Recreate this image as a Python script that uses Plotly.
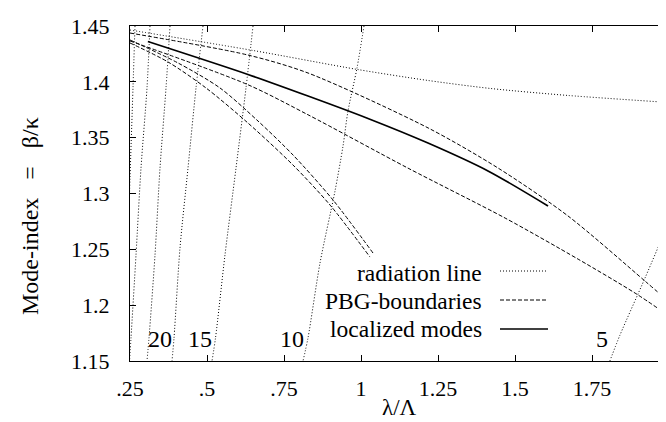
import plotly.graph_objects as go

FONT = "Liberation Serif, Times New Roman, serif"

# ---- tick labels ----
x_tick_vals = [0.25, 0.5, 0.75, 1.0, 1.25, 1.5, 1.75, 2.0]
x_tick_text = [".25", ".5", ".75", "1", "1.25", "1.5", "1.75", "2"]
y_tick_vals = [1.15, 1.2, 1.25, 1.3, 1.35, 1.4, 1.45]
y_tick_text = ["1.15", "1.2", "1.25", "1.3", "1.35", "1.4", "1.45"]

# ---- radiation line (cladding) ----
rad_x = [0.25, 0.649, 0.990, 1.218, 1.422, 1.672, 2.0]
rad_y = [1.4464, 1.4281, 1.4110, 1.4012, 1.3940, 1.3878, 1.3815]

# ---- steep radiation lines (labelled 5 ... 20, plus unlabelled ones) ----
l0_x = [0.2662, 0.2597, 0.2500, 0.2450]
l0_y = [1.4500, 1.3945, 1.3139, 1.2700]
l1_x = [0.3149, 0.3052, 0.2857, 0.2695, 0.2532, 0.2484]
l1_y = [1.4500, 1.3945, 1.3228, 1.2450, 1.1706, 1.1500]
l2_x = [0.3799, 0.3669, 0.3474, 0.3312, 0.3117, 0.3052]
l2_y = [1.4500, 1.3945, 1.3228, 1.2450, 1.1706, 1.1500]
l3_x = [0.4870, 0.4643, 0.4383, 0.4123, 0.3929, 0.3864]
l3_y = [1.4500, 1.3945, 1.3228, 1.2512, 1.1706, 1.1500]
l4_x = [0.6494, 0.6266, 0.5942, 0.5584, 0.5276, 0.5162]
l4_y = [1.4500, 1.3945, 1.3228, 1.2450, 1.1706, 1.1500]
l5_x = [1.0097, 0.9870, 0.9578, 0.9416, 0.9156, 0.8669, 0.8279, 0.8117]
l5_y = [1.4500, 1.4124, 1.3739, 1.3425, 1.3022, 1.2378, 1.1706, 1.1500]
l6_x = [1.8080, 1.8409, 1.9221, 1.9968, 2.0100]
l6_y = [1.1500, 1.1733, 1.2243, 1.2727, 1.2810]

steep_lines = [(l0_x, l0_y), (l1_x, l1_y), (l2_x, l2_y), (l3_x, l3_y),
               (l4_x, l4_y), (l5_x, l5_y), (l6_x, l6_y)]

# ---- PBG boundaries ----
d1_x = [0.25, 0.633, 0.828, 1.218, 1.445, 1.672, 1.922, 2.0]
d1_y = [1.4437, 1.4240, 1.4079, 1.3587, 1.3228, 1.2799, 1.2216, 1.2030]
d2_x = [0.25, 0.633, 0.828, 1.152, 1.468, 1.705, 1.890, 1.986]
d2_y = [1.4366, 1.3974, 1.3705, 1.3228, 1.2780, 1.2412, 1.2108, 1.1930]
d3_x = [0.25, 0.3734, 0.4968, 0.6331, 0.7792, 0.8994, 1.0292]
d3_y = [1.4348, 1.4178, 1.3945, 1.3631, 1.3255, 1.2897, 1.2431]
d4_x = [0.25, 0.4058, 0.5422, 0.6656, 0.7792, 0.9091, 1.0390]
d4_y = [1.4375, 1.4169, 1.3945, 1.3649, 1.3345, 1.2942, 1.2467]
pbg_lines = [(d1_x, d1_y), (d2_x, d2_y), (d3_x, d3_y), (d4_x, d4_y)]

# ---- localized mode ----
loc_x = [0.308, 0.633, 0.828, 1.0227, 1.2175, 1.4123, 1.6072]
loc_y = [1.4361, 1.4066, 1.3873, 1.3672, 1.3452, 1.3202, 1.2888]

# ---- curve labels ----
curve_labels = ["20", "15", "10", "5"]
curve_label_x = [0.393, 0.523, 0.821, 1.809]
curve_label_y = [1.1697, 1.1697, 1.1697, 1.1697]

legend_labels = ["radiation line", "PBG-boundaries", "localized modes"]

DOT = "1px,2px"
DASH = "4px,2px"

fig = go.Figure()

def add(x, y, dash, width):
    fig.add_trace(go.Scatter(x=x, y=y, mode="lines", showlegend=False,
                             line=dict(color="black", width=width, dash=dash,
                                       shape="spline", smoothing=0.8),
                             hoverinfo="skip"))

add(rad_x, rad_y, DOT, 1)
for lx, ly in steep_lines:
    add(lx, ly, DOT, 1)
for dx, dy in pbg_lines:
    add(dx, dy, DASH, 1)
add(loc_x, loc_y, "solid", 1.7)

annotations = []
for t, xx, yy in zip(curve_labels, curve_label_x, curve_label_y):
    annotations.append(dict(x=xx, y=yy, xref="x", yref="y", text=t, showarrow=False,
                            xanchor="right", yanchor="middle",
                            font=dict(family=FONT, size=24, color="black")))

# legend (gnuplot style: text right-aligned, sample to the right)
W, H = 666, 422
L, R, T, B = 122, 5, 18, 69
pw, ph = W - L - R, H - T - B

def px2paper(px, py):
    return (px - L) / pw, (H - B - py) / ph

leg_text_px = 476
leg_rows_py = [265, 293, 321]
leg_sample_py = [263, 292, 321]
leg_dashes = [DOT, DASH, "solid"]
shapes = []
for lab, ty, sy, ds in zip(legend_labels, leg_rows_py, leg_sample_py, leg_dashes):
    tx, typ = px2paper(leg_text_px, ty)
    annotations.append(dict(x=tx, y=typ, xref="paper", yref="paper", text=lab,
                            showarrow=False, xanchor="right", yanchor="middle",
                            font=dict(family=FONT, size=23.5, color="black")))
    x0, sy0 = px2paper(492, sy)
    x1, _ = px2paper(540, sy)
    shapes.append(dict(type="line", xref="paper", yref="paper", x0=x0, x1=x1,
                       y0=sy0, y1=sy0,
                       line=dict(color="black", width=1.7 if ds == "solid" else 1,
                                 dash=ds)))

# axis titles
annotations.append(dict(x=0.5, y=0, xref="paper", yref="paper", text="λ/Λ",
                        showarrow=False, xanchor="center", yanchor="top",
                        yshift=-33, borderpad=0,
                        font=dict(family=FONT, size=23, color="black")))
annotations.append(dict(x=0, y=(353 - 208) / ph, xref="paper", yref="paper",
                        text="Mode-index\u00a0\u00a0\u00a0=\u00a0\u00a0\u00a0β/κ",
                        showarrow=False, xanchor="center", yanchor="middle",
                        xshift=-100, textangle=-90,
                        font=dict(family=FONT, size=24, color="black")))

axis_common = dict(ticks="inside", ticklen=6, tickwidth=1, tickcolor="black",
                   mirror="allticks", showline=True, linecolor="black", linewidth=1,
                   showgrid=False, zeroline=False,
                   tickfont=dict(family=FONT, size=22, color="black"))

fig.update_xaxes(range=[0.25, 2.0], tickvals=x_tick_vals, ticktext=x_tick_text,
                 ticklabelstandoff=8, **axis_common)
fig.update_yaxes(range=[1.15, 1.45], tickvals=y_tick_vals, ticktext=y_tick_text,
                 ticklabelstandoff=15, **axis_common)

fig.update_layout(width=W, height=H, autosize=False,
                  margin=dict(l=L, r=R, t=T, b=B),
                  paper_bgcolor="white", plot_bgcolor="white",
                  annotations=annotations, shapes=shapes,
                  font=dict(family=FONT, color="black"))

fig.write_html("out.html")
